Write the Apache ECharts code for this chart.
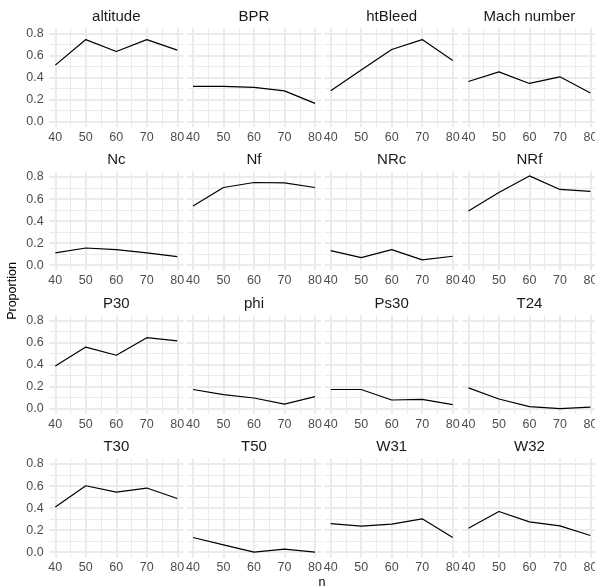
<!DOCTYPE html>
<html>
<head>
<meta charset="utf-8">
<script src="https://cdn.jsdelivr.net/npm/echarts@6/dist/echarts.min.js"></script>
<style>
html,body{margin:0;padding:0;background:#fff;}
#chart{width:595px;height:588px;}
</style>
</head>
<body>
<div id="chart"></div>
<script>
// ---- data ----
const n = [40, 50, 60, 70, 80];
const panels = ["altitude", "BPR", "htBleed", "Mach number",
                "Nc", "Nf", "NRc", "NRf",
                "P30", "phi", "Ps30", "T24",
                "T30", "T50", "W31", "W32"];
const altitude = [0.513, 0.745, 0.637, 0.745, 0.649];
const BPR      = [0.320, 0.320, 0.311, 0.280, 0.166];
const htBleed  = [0.280, 0.470, 0.655, 0.745, 0.556];
const Mach     = [0.365, 0.452, 0.347, 0.407, 0.260];
const Nc       = [0.111, 0.156, 0.141, 0.111, 0.078];
const Nf       = [0.537, 0.705, 0.750, 0.747, 0.705];
const NRc      = [0.132, 0.069, 0.141, 0.048, 0.081];
const NRf      = [0.492, 0.660, 0.810, 0.687, 0.669];
const P30      = [0.387, 0.559, 0.485, 0.644, 0.616];
const phi      = [0.174, 0.128, 0.097, 0.042, 0.110];
const Ps30     = [0.174, 0.174, 0.079, 0.085, 0.037];
const T24      = [0.189, 0.088, 0.018, 0.000, 0.015];
const T30      = [0.409, 0.603, 0.545, 0.582, 0.487];
const T50      = [0.133, 0.067, 0.000, 0.027, 0.000];
const W31      = [0.260, 0.236, 0.255, 0.303, 0.133];
const W32      = [0.218, 0.369, 0.275, 0.239, 0.151];
const seriesValues = [altitude, BPR, htBleed, Mach, Nc, Nf, NRc, NRf,
                      P30, phi, Ps30, T24, T30, T50, W31, W32];
const yTickLabels = ["0.0", "0.2", "0.4", "0.6", "0.8"];
const xTickLabels = ["40", "50", "60", "70", "80"];

// ---- layout ----
const FONT = "'Liberation Sans', Arial, Helvetica, sans-serif";
const lefts = [49.2, 186.9, 324.6, 462.3];
const tops = [28, 171.5, 315, 458.5];
const W = 134.2, H = 99.2;
const GRID = '#EBEBEB', NONE = 'rgba(0,0,0,0)';
function cycle(len, idx) { const a = []; for (let i = 0; i < len; i++) a.push(i === idx ? GRID : NONE); return a; }

const grids = [], xAxes = [], yAxes = [], series = [], titles = [];
panels.forEach((name, g) => {
  const r = Math.floor(g / 4), c = g % 4;
  grids.push({ left: lefts[c], top: tops[r], width: W, height: H, containLabel: false, outerBoundsMode: 'none' });
  const xBase = { gridIndex: g, type: 'value', min: 38, max: 82, interval: 1,
    axisLine: { show: false }, axisTick: { show: false } };
  xAxes.push(Object.assign({}, xBase, { position: 'bottom',
    axisLabel: { show: true, margin: 3.5, color: '#4D4D4D', fontSize: 12.5, fontFamily: FONT,
      formatter: v => (xTickLabels.indexOf(String(Math.round(v))) >= 0 && Math.abs(v - Math.round(v)) < 1e-6) ? String(Math.round(v)) : '' },
    splitLine: { show: true, lineStyle: { color: cycle(10, 2), width: 2 } } }));
  xAxes.push(Object.assign({}, xBase, { position: 'top', axisLabel: { show: false },
    splitLine: { show: true, lineStyle: { color: cycle(10, 7), width: 1 } } }));
  const yBase = { gridIndex: g, type: 'value', min: -0.05, max: 0.85, interval: 0.05,
    axisLine: { show: false }, axisTick: { show: false } };
  yAxes.push(Object.assign({}, yBase, { position: 'left',
    axisLabel: { show: c === 0, margin: 5.5, color: '#4D4D4D', fontSize: 12.5, fontFamily: FONT,
      formatter: v => { const k = Math.round(v * 100); return (k >= 0 && k % 20 === 0) ? yTickLabels[k / 20] || '' : ''; } },
    splitLine: { show: true, lineStyle: { color: cycle(4, 1), width: 2 } } }));
  yAxes.push(Object.assign({}, yBase, { position: 'right', axisLabel: { show: false },
    splitLine: { show: true, lineStyle: { color: cycle(4, 3), width: 1 } } }));
  series.push({ type: 'line', name: name, xAxisIndex: 2 * g, yAxisIndex: 2 * g,
    data: n.map((x, i) => [x, seriesValues[g][i]]),
    showSymbol: false, symbol: 'none', silent: true, animation: false,
    lineStyle: { color: '#000', width: 1.2 } });
  titles.push({ text: name, left: lefts[c] + W / 2, top: tops[r] - 19, textAlign: 'center', padding: 0,
    textStyle: { fontSize: 15, fontWeight: 'normal', color: '#1A1A1A', fontFamily: FONT, lineHeight: 15 } });
});

const chart = echarts.init(document.getElementById('chart'), null, { renderer: 'canvas' });
chart.setOption({
  backgroundColor: '#fff',
  animation: false,
  title: titles,
  grid: grids,
  xAxis: xAxes,
  yAxis: yAxes,
  series: series,
  graphic: [
    { type: 'text', x: 13, y: 291, rotation: Math.PI / 2,
      style: { text: 'Proportion', fontSize: 12.5, fontFamily: FONT, fill: '#000', align: 'center', verticalAlign: 'middle' } },
    { type: 'text', x: 322, y: 582.5, style: { text: 'n', fontSize: 12.5, fontFamily: FONT, fill: '#000', align: 'center', verticalAlign: 'middle' } }
  ]
});
</script>
</body>
</html>
